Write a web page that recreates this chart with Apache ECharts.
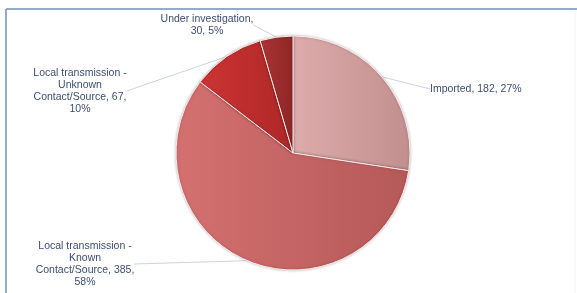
<!DOCTYPE html>
<html><head><meta charset="utf-8">
<script src="https://cdn.jsdelivr.net/npm/echarts@6/dist/echarts.min.js"></script>
<style>html,body{margin:0;padding:0;background:#fff}#c{width:577px;height:293px}</style>
</head><body><div id="c"></div>
<script>
const categories = ["Imported", "Local transmission - Known Contact/Source", "Local transmission - Unknown Contact/Source", "Under investigation"];
const values = [182, 385, 67, 30];
const colorsLeft = ["#ddabab", "#d47070", "#cc3434", "#ad3636"];
const colorsRight = ["#c28f8f", "#b65959", "#ae2727", "#8e2525"];
// label text line-break rules per slice
const nameLines = [
  ["Imported"],
  ["Local transmission -", "Known", "Contact/Source"],
  ["Local transmission -", "Unknown", "Contact/Source"],
  ["Under investigation"]
];
const labelPos = [
  {x: 430, y: 89, align: 'left'},
  {x: 85, y: 264, align: 'center'},
  {x: 80, y: 91, align: 'center'},
  {x: 207, y: 25, align: 'center'}
];
const chart = echarts.init(document.getElementById('c'));
chart.setOption({
  animation: false,
  graphic: [
    {type: 'line', shape: {x1: 6, y1: 9, x2: 577, y2: 9}, style: {stroke: '#6f8fb3', lineWidth: 1.5}},
    {type: 'line', shape: {x1: 6, y1: 9, x2: 6, y2: 293}, style: {stroke: '#6f8fb3', lineWidth: 1.5}},
    {type: 'line', shape: {x1: 575, y1: 10, x2: 575, y2: 293}, style: {stroke: '#eef2f6', lineWidth: 1}}
  ],
  series: [{
    type: 'pie',
    center: [293, 153],
    radius: 117,
    startAngle: 90,
    clockwise: true,
    percentPrecision: 0,
    avoidLabelOverlap: false,
    data: categories.map((n, i) => ({
      name: n, value: values[i],
      itemStyle: {
        color: new echarts.graphic.LinearGradient(0, 0, 1, 0, [
          {offset: 0, color: colorsLeft[i]}, {offset: 1, color: colorsRight[i]}
        ])
      }
    })),
    itemStyle: {borderColor: '#fbeaea', borderWidth: 1, shadowBlur: 3, shadowColor: 'rgba(0,0,0,0.25)'},
    label: {
      show: true,
      position: 'outside',
      fontFamily: 'Liberation Sans, Arial, sans-serif',
      fontSize: 10.5,
      lineHeight: 12,
      color: '#3d4e70',
      formatter: function (p) {
        const lines = nameLines[p.dataIndex];
        if (p.dataIndex === 0) return lines[0] + ', ' + p.value + ', ' + p.percent + '%';
        if (p.dataIndex === 3) return lines[0] + ',\n' + p.value + ', ' + p.percent + '%';
        return lines.slice(0, -1).join('\n') + '\n' + lines[lines.length - 1] + ', ' + p.value + ',\n' + p.percent + '%';
      }
    },
    labelLine: {show: true, length: 0, length2: 0, lineStyle: {color: '#c9d3e2', width: 1}},
    labelLayout: function (params) {
      const lp = labelPos[params.dataIndex];
      return {x: lp.x, y: lp.y, align: lp.align, verticalAlign: 'middle'};
    }
  }]
});
</script></body></html>
